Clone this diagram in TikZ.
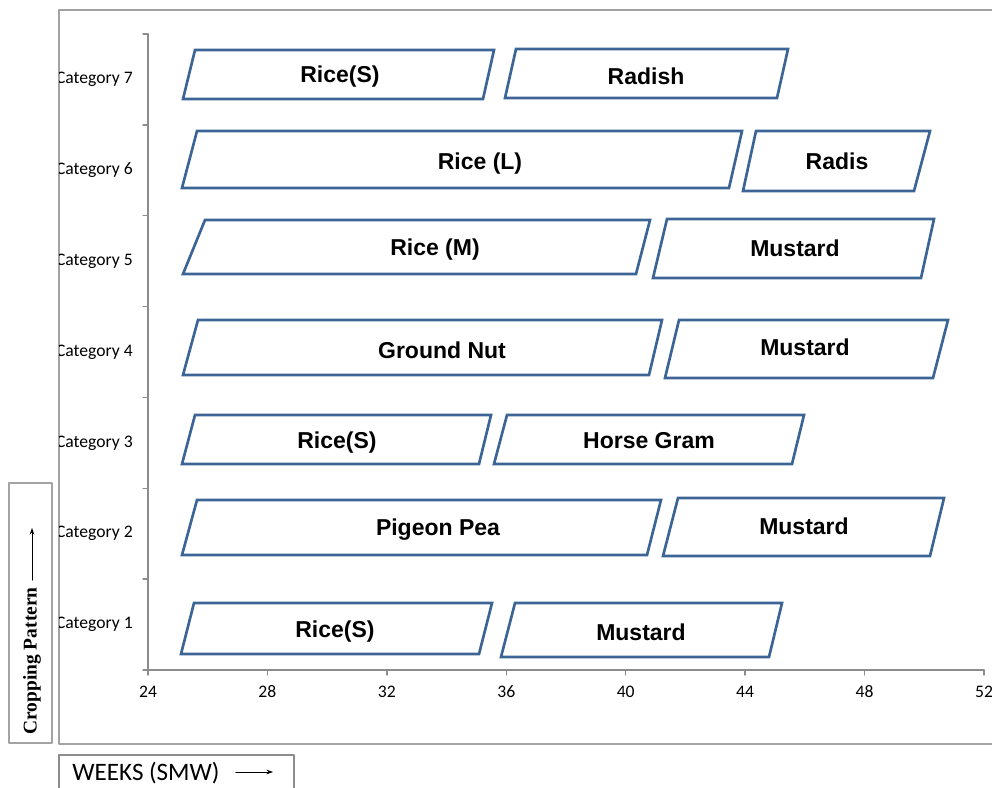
\documentclass[tikz,border=0pt]{standalone}
\usepackage{fontspec}
\setmainfont{Liberation Sans}
\newfontfamily\calibfont{Carlito}
\newfontfamily\timesfont{Liberation Serif}
\usetikzlibrary{arrows.meta}
\definecolor{cropblue}{HTML}{3C6595}
\definecolor{axisgray}{HTML}{8C8C8C}
\definecolor{framegray}{HTML}{A3A3A3}

\begin{document}
\begin{tikzpicture}[line cap=round,line join=round,x=0.75pt,y=-0.75pt,
  cropbar/.style={draw=cropblue,line width=2pt,line join=miter},
  croplabel/.style={font=\fontsize{17.25}{20}\selectfont\bfseries,inner sep=0pt,yshift=-1.5pt},
  catlabel/.style={font=\calibfont\fontsize{13.2}{15}\selectfont,anchor=east,inner sep=0pt},
  ticklabel/.style={font=\calibfont\fontsize{13.2}{15}\selectfont,inner sep=0pt}]
\useasboundingbox (0,0) rectangle (992,788);
\clip (0,0) rectangle (992,788);
\draw [framegray,line width=1.2pt] (59,10) rectangle (1010,744);
\draw [framegray,line width=1.2pt] (9,483) rectangle (52,743);
\draw [axisgray,line width=1.2pt] (59,755) rectangle (294,800);
\draw [axisgray,line width=1pt] (148,34) -- (148,670) -- (984,670);
\draw [axisgray,line width=1pt] (143,34) -- (148,34);
\draw [axisgray,line width=1pt] (143,124.9) -- (148,124.9);
\draw [axisgray,line width=1pt] (143,215.7) -- (148,215.7);
\draw [axisgray,line width=1pt] (143,306.6) -- (148,306.6);
\draw [axisgray,line width=1pt] (143,397.4) -- (148,397.4);
\draw [axisgray,line width=1pt] (143,488.3) -- (148,488.3);
\draw [axisgray,line width=1pt] (143,579.1) -- (148,579.1);
\draw [axisgray,line width=1pt] (143,670) -- (148,670);
\draw [axisgray,line width=1pt] (148,670) -- (148,675);
\draw [axisgray,line width=1pt] (267.4,670) -- (267.4,675);
\draw [axisgray,line width=1pt] (386.9,670) -- (386.9,675);
\draw [axisgray,line width=1pt] (506.3,670) -- (506.3,675);
\draw [axisgray,line width=1pt] (625.7,670) -- (625.7,675);
\draw [axisgray,line width=1pt] (745.1,670) -- (745.1,675);
\draw [axisgray,line width=1pt] (864.6,670) -- (864.6,675);
\draw [axisgray,line width=1pt] (984,670) -- (984,675);
\node [ticklabel] (w24) at (148,692) {24};
\node [ticklabel] (w28) at (267.4,692) {28};
\node [ticklabel] (w32) at (386.9,692) {32};
\node [ticklabel] (w36) at (506.3,692) {36};
\node [ticklabel] (w40) at (625.7,692) {40};
\node [ticklabel] (w44) at (745.1,692) {44};
\node [ticklabel] (w48) at (864.6,692) {48};
\node [ticklabel] (w52) at (984,692) {52};
\begin{scope}
\clip (59,10) rectangle (148,744);
\node [catlabel] (cat1) at (133,624.6) {Category 1};
\node [catlabel] (cat2) at (133,533.7) {Category 2};
\node [catlabel] (cat3) at (133,442.9) {Category 3};
\node [catlabel] (cat4) at (133,352.0) {Category 4};
\node [catlabel] (cat5) at (133,261.2) {Category 5};
\node [catlabel] (cat6) at (133,170.3) {Category 6};
\node [catlabel] (cat7) at (133,79.4) {Category 7};
\end{scope}
\draw [cropbar] (195,50) -- (494,50) -- (483,99) -- (183,99) -- cycle;
\draw [cropbar] (516,49) -- (788,49) -- (777,98) -- (505,98) -- cycle;
\draw [cropbar] (197,131) -- (742,131) -- (729,188) -- (182,188) -- cycle;
\draw [cropbar] (756,131) -- (930,131) -- (914,191) -- (743,191) -- cycle;
\draw [cropbar] (205,220) -- (650,220) -- (636,274) -- (183,274) -- cycle;
\draw [cropbar] (667,219) -- (934,219) -- (921,278) -- (653,278) -- cycle;
\draw [cropbar] (198,320) -- (662,320) -- (649,375) -- (183,375) -- cycle;
\draw [cropbar] (679,320) -- (948,320) -- (933,378) -- (665,378) -- cycle;
\draw [cropbar] (195,415) -- (491,415) -- (479,464) -- (182,464) -- cycle;
\draw [cropbar] (507,415) -- (804,415) -- (792,464) -- (494,464) -- cycle;
\draw [cropbar] (197,500) -- (661,500) -- (647,555) -- (182,555) -- cycle;
\draw [cropbar] (678,498) -- (944,498) -- (930,556) -- (663,556) -- cycle;
\draw [cropbar] (194,603) -- (492,603) -- (479,654) -- (181,654) -- cycle;
\draw [cropbar] (515,603) -- (782,603) -- (769,657) -- (501,657) -- cycle;
\node [croplabel] (c7a) at (340,75) {Rice(S)};
\node [croplabel] (c7b) at (646,74) {Radish};
\node [croplabel] (c6a) at (480,162) {Rice (L)};
\node [croplabel] (c6b) at (837,159) {Radis};
\node [croplabel] (c5a) at (435,248) {Rice (M)};
\node [croplabel] (c5b) at (795,246) {Mustard};
\node [croplabel] (c4a) at (442,348) {Ground Nut};
\node [croplabel] (c4b) at (805,345) {Mustard};
\node [croplabel] (c3a) at (337,441) {Rice(S)};
\node [croplabel] (c3b) at (649,439) {Horse Gram};
\node [croplabel] (c2a) at (438,528) {Pigeon Pea};
\node [croplabel] (c2b) at (804,524) {Mustard};
\node [croplabel] (c1a) at (335,630) {Rice(S)};
\node [croplabel] (c1b) at (641,630) {Mustard};
\node [rotate=90,inner sep=0pt,font=\timesfont\fontsize{14.6}{16}\selectfont\bfseries] (croplab) at (32,661) {Cropping Pattern};
\coordinate (croptip) at (32,528);
\draw [-{Stealth[length=5pt,width=3.5pt]},line width=0.6pt] (croplab.east) ++(0,-7) -- (croptip);
\node [inner sep=0pt,font=\calibfont\fontsize{18.8}{21}\selectfont] (weeklab) at (146,773) {WEEKS (SMW)};
\coordinate (weektip) at (273,772);
\draw [-{Stealth[length=5pt,width=3.5pt]},line width=0.6pt] (weeklab.east) ++(16,-1) -- (weektip);
\end{tikzpicture}
\end{document}
